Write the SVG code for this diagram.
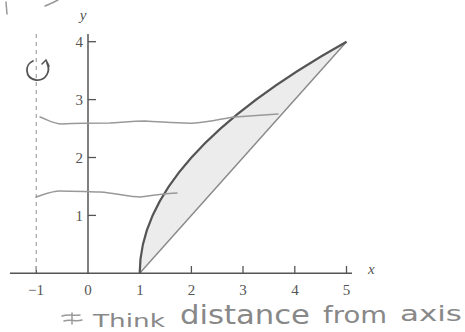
<svg xmlns="http://www.w3.org/2000/svg" width="465" height="332" viewBox="0 0 465 332">
<style>
.ax{stroke:#555;stroke-width:1.5;fill:none}
.tk{stroke:#555;stroke-width:1.3}
.num{font-family:"Liberation Serif",serif;font-size:15px;fill:#555}
.lab{font-family:"Liberation Serif",serif;font-style:italic;font-size:15px;fill:#555}
.hand{stroke:#999;stroke-width:1.5;fill:none;stroke-linecap:round;stroke-linejoin:round}
.note{font-family:"DejaVu Sans",sans-serif;fill:#888}
</style>
<rect width="465" height="332" fill="#fff"/>
<g id="region">
<path d="M139.7 273.3 Q139.7 157.5 346.5 41.7 Z" fill="#ececec" stroke="none"/>
<path d="M139.7 273.3 L346.5 41.7" stroke="#888" stroke-width="1.4" fill="none"/>
<path d="M139.7 273.3 Q139.7 157.5 346.5 41.7" stroke="#555" stroke-width="2.2" fill="none"/>
</g>
<g id="axes">
<line class="ax" x1="10" y1="273.3" x2="352" y2="273.3"/>
<line class="ax" x1="88" y1="34" x2="88" y2="273.3"/>
<line class="tk" x1="36.3" y1="273" x2="36.3" y2="266"/>
<line class="tk" x1="139.7" y1="273" x2="139.7" y2="266"/>
<line class="tk" x1="191.4" y1="273" x2="191.4" y2="266"/>
<line class="tk" x1="243" y1="273" x2="243" y2="266"/>
<line class="tk" x1="294.8" y1="273" x2="294.8" y2="266"/>
<line class="tk" x1="346.5" y1="273" x2="346.5" y2="266"/>
<line class="tk" x1="88" y1="41.7" x2="96" y2="41.7"/>
<line class="tk" x1="88" y1="99.6" x2="96" y2="99.6"/>
<line class="tk" x1="88" y1="157.5" x2="96" y2="157.5"/>
<line class="tk" x1="88" y1="215.4" x2="96" y2="215.4"/>
<text class="num" x="36" y="295" text-anchor="middle">−1</text>
<text class="num" x="88" y="295" text-anchor="middle">0</text>
<text class="num" x="140" y="295" text-anchor="middle">1</text>
<text class="num" x="191.5" y="295" text-anchor="middle">2</text>
<text class="num" x="243" y="295" text-anchor="middle">3</text>
<text class="num" x="295" y="295" text-anchor="middle">4</text>
<text class="num" x="346.5" y="295" text-anchor="middle">5</text>
<text class="num" x="83" y="47" text-anchor="end">4</text>
<text class="num" x="83" y="105" text-anchor="end">3</text>
<text class="num" x="83" y="163" text-anchor="end">2</text>
<text class="num" x="83" y="221" text-anchor="end">1</text>
<text class="lab" x="83" y="20" text-anchor="middle">y</text>
<text class="lab" x="368" y="274">x</text>
</g>
<g id="annotations">
<line x1="36.3" y1="34" x2="36.3" y2="273" stroke="#aaa" stroke-width="1.3" stroke-dasharray="4 4"/>
<path d="M33 61 C25 64 24 78 36 80 C46 81 51 71 47 63" stroke="#555" stroke-width="1.8" fill="none" stroke-linecap="round"/>
<path d="M42 64 L46 60 L49 66" stroke="#555" stroke-width="1.6" fill="none" stroke-linecap="round"/>
<path class="hand" d="M40 117 C48 120 54 124 62 124 C80 123 100 123 110 123 C125 122 135 121 145 121 C165 122 185 124 195 123 C210 122 225 118 235 117 C250 116 265 115 278 114"/>
<path class="hand" d="M36 197 C45 194 52 191 60 191 C75 191 90 192 100 192 C115 193 130 197 140 197 C150 196 165 193 177 193"/>
<path class="hand" d="M6 2 L7 14" stroke-width="2"/>
<path class="hand" d="M45 6 C50 4 54 2 58 0" stroke-width="2"/>
<path class="hand" d="M62 316 C68 314 74 316 80 315 M64 321 C70 319 76 322 82 320 M72 313 L72 324"/>
<text class="note" x="93" y="327" font-size="18" textLength="72" lengthAdjust="spacingAndGlyphs">Think</text>
<text class="note" x="180" y="324" font-size="26" textLength="130" lengthAdjust="spacingAndGlyphs">distance</text>
<text class="note" x="323" y="323" font-size="23" textLength="64" lengthAdjust="spacingAndGlyphs">from</text>
<text class="note" x="400" y="321" font-size="22" textLength="62" lengthAdjust="spacingAndGlyphs">axis</text>
</g>
</svg>
